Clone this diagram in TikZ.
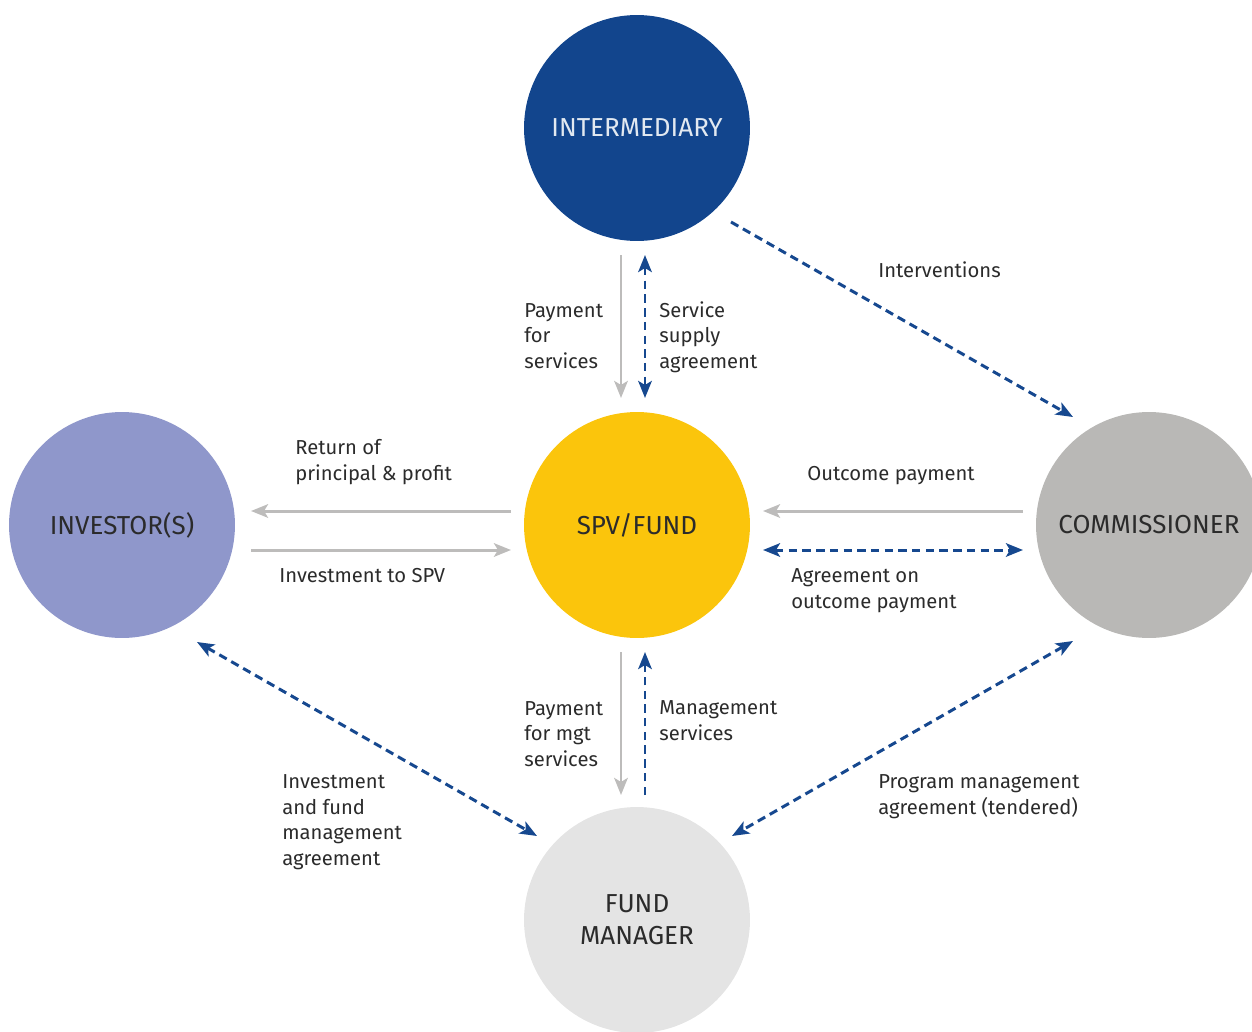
\documentclass[tikz,border=0pt]{standalone}
\usepackage{fontspec}
\setmainfont{Fira Sans}
\usetikzlibrary{arrows.meta, calc}
\definecolor{interblue}{HTML}{12458D}
\definecolor{spvyellow}{HTML}{FBC50C}
\definecolor{invpurple}{HTML}{8F97CB}
\definecolor{commgray}{HTML}{B9B8B6}
\definecolor{fundgray}{HTML}{E4E4E4}
\definecolor{moneygray}{HTML}{BDBCBB}
\definecolor{dealblue}{HTML}{16488F}
\definecolor{lbltext}{HTML}{2B2B2B}
\tikzset{
    party/.style={circle,minimum size=4.52cm,inner sep=0pt,align=center,
        text=lbltext,font=\fontsize{14.8}{18.2}\selectfont},
    lbl/.style={anchor=base west,inner sep=0pt,align=left,text=lbltext,
        font=\fontsize{11.5}{14.5}\selectfont},
    money/.style={draw=moneygray,line width=1.7pt,
        -{Stealth[length=0.34cm,width=0.27cm,inset=0.08cm]}},
    deal/.style={draw=dealblue,line width=1.7pt,dash pattern=on 4.8pt off 3pt,
        -{Stealth[length=0.34cm,width=0.27cm,inset=0.08cm]}},
    dealboth/.style={deal,
        {Stealth[length=0.34cm,width=0.27cm,inset=0.08cm]}-{Stealth[length=0.34cm,width=0.27cm,inset=0.08cm]}},
}
\begin{document}
\begin{tikzpicture}[x=0.02cm,y=-0.02cm]
\clip (0,0) rectangle (1252,1032);
\node[party,fill=interblue,text=white!88!interblue] (inter) at (637,128) {INTERMEDIARY};
\node[party,fill=spvyellow] (spv)   at (637,525) {SPV/FUND};
\node[party,fill=invpurple] (inv)   at (122,525) {INVESTOR(S)};
\node[party,fill=commgray]  (comm)  at (1149,525) {COMMISSIONER};
\node[party,fill=fundgray]  (fund)  at (637,920) {FUND\\MANAGER};

% intermediary <-> spv
\draw[money] ($(inter)+(-16,127)$) -- ($(spv)+(-16,-127)$);
\draw[dealboth] ($(inter)+(8,127)$) -- ($(spv)+(8,-127)$);
\node[lbl] (payserv) at (524,368) {Payment\\for\\services};
\node[lbl] (supply)  at (659,368) {Service\\supply\\agreement};

% investor <-> spv
\draw[money] ($(spv)+(-126,-14)$) -- ($(inv)+(129,-14)$);
\draw[money] ($(inv)+(129,25)$) -- ($(spv)+(-126,25)$);
\node[lbl] (return)   at (295,480) {Return of\\principal \& profit};
\node[lbl] (investto) at (279,582) {Investment to SPV};

% commissioner <-> spv
\draw[money] ($(comm)+(-126,-14)$) -- ($(spv)+(126,-14)$);
\draw[dealboth] ($(spv)+(126,25)$) -- ($(comm)+(-126,25)$);
\node[lbl] (outcome) at (807,480) {Outcome payment};
\node[lbl] (agree)   at (791,608) {Agreement on\\outcome payment};

% spv <-> fund manager
\draw[money] ($(spv)+(-16,127)$) -- ($(fund)+(-16,-125)$);
\draw[deal] ($(fund)+(8,-125)$) -- ($(spv)+(8,127)$);
\node[lbl] (paymgt)  at (524,766) {Payment\\for mgt\\services};
\node[lbl] (mgtserv) at (659,740) {Management\\services};

% diagonals
\draw[deal] ($(inter)+(94,94)$) -- ($(comm)+(-76,-108)$);
\draw[dealboth] ($(inv)+(75,117)$) -- ($(fund)+(-100,-84)$);
\draw[dealboth] ($(comm)+(-76,116)$) -- ($(fund)+(95,-84)$);
\node[lbl] (interv)    at (878,277) {Interventions};
\node[lbl] (fundagree) at (282,865) {Investment\\and fund\\management\\agreement};
\node[lbl] (progagree) at (878,814) {Program management\\agreement (tendered)};
\end{tikzpicture}
\end{document}
